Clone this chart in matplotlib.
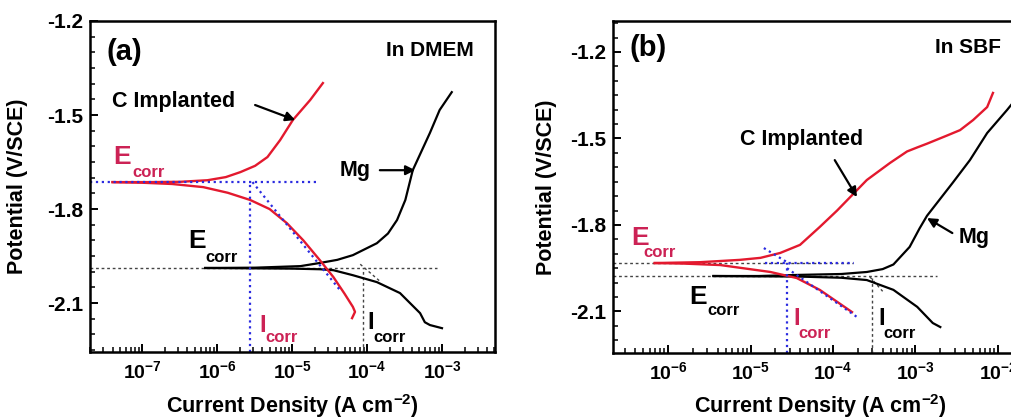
import matplotlib
matplotlib.use('Agg')
import matplotlib.pyplot as plt
import matplotlib.ticker as mtick
import numpy as np

plt.rcParams['font.family'] = ['Liberation Sans', 'DejaVu Sans']
plt.rcParams['font.weight'] = 'bold'
plt.rcParams['mathtext.fontset'] = 'custom'
plt.rcParams['mathtext.rm'] = 'Liberation Sans:bold'
plt.rcParams['mathtext.it'] = 'Liberation Sans:bold'
plt.rcParams['mathtext.bf'] = 'Liberation Sans:bold'
plt.rcParams['axes.unicode_minus'] = False

# ---- panel (a): in DMEM ----
a_c_anod_i = [4.0e-8, 1.26e-7, 3.2e-7, 7.4e-7, 1.3e-6, 2.04e-6, 3.2e-6, 4.68e-6, 6.9e-6,
              1.02e-5, 1.74e-5, 2.57e-5]
a_c_anod_e = [-1.714, -1.714, -1.713, -1.708, -1.698, -1.682, -1.662, -1.634, -1.58,
              -1.516, -1.452, -1.398]
a_c_cath_i = [4.0e-8, 1.0e-7, 2.5e-7, 6.5e-7, 1.38e-6, 2.75e-6, 5.0e-6, 8.5e-6, 1.41e-5,
              2.34e-5, 3.55e-5, 5.0e-5, 6.46e-5, 6.9e-5, 6.3e-5]
a_c_cath_e = [-1.714, -1.716, -1.72, -1.730, -1.748, -1.771, -1.80, -1.845, -1.90,
              -1.963, -2.017, -2.07, -2.112, -2.128, -2.148]
a_mg_anod_i = [6.9e-7, 3.2e-6, 1.29e-5, 2.34e-5, 4.0e-5, 6.46e-5, 1.35e-4, 1.9e-4, 2.51e-4,
               3.24e-4, 4.07e-4, 6.9e-4, 9.3e-4, 1.35e-3]
a_mg_anod_e = [-1.988, -1.987, -1.982, -1.972, -1.962, -1.947, -1.909, -1.878, -1.835,
               -1.771, -1.676, -1.557, -1.484, -1.427]
a_mg_cath_i = [6.9e-7, 1.0e-5, 2.34e-5, 3.55e-5, 6.46e-5, 1.35e-4, 2.75e-4, 5.1e-4,
               5.9e-4, 6.9e-4, 1.0e-3]
a_mg_cath_e = [-1.988, -1.99, -1.992, -1.995, -2.011, -2.033, -2.068, -2.132,
               -2.161, -2.17, -2.18]

a_ecorr_c, a_icorr_c = -1.714, 2.75e-6
a_ecorr_mg, a_icorr_mg = -1.988, 8.8e-5
a_ecorr_c_end = 2.1e-5
a_ecorr_mg_end = 8.5e-4
a_tafel_c_i, a_tafel_c_e = [2.95e-6, 4.4e-5], [-1.714, -2.06]
a_tafel_mg_i, a_tafel_mg_e = [8.1e-5, 1.48e-4], [-1.976, -2.03]

# ---- panel (b): in SBF ----
b_c_anod_i = [6.9e-7, 2.45e-6, 7.4e-6, 1.32e-5, 2.29e-5, 3.98e-5, 6.9e-5, 1.12e-4, 2.57e-4,
              4.9e-4, 7.9e-4, 1.05e-3, 1.38e-3, 2.4e-3, 3.47e-3, 5.0e-3, 7.4e-3, 8.7e-3]
b_c_anod_e = [-1.932, -1.929, -1.921, -1.914, -1.897, -1.869, -1.807, -1.75, -1.644,
              -1.585, -1.545, -1.531, -1.518, -1.490, -1.471, -1.436, -1.391, -1.342]
b_c_cath_i = [6.9e-7, 1.58e-6, 4.3e-6, 1.74e-5, 3.63e-5, 6.9e-5, 1.7e-4]
b_c_cath_e = [-1.932, -1.934, -1.939, -1.963, -1.984, -2.025, -2.102]
b_mg_anod_i = [3.55e-6, 1.26e-5, 3.98e-5, 1.26e-4, 2.57e-4, 4.0e-4, 5.4e-4, 8.5e-4, 1.12e-3,
               1.38e-3, 2.82e-3, 4.57e-3, 7.4e-3, 1.29e-2, 1.48e-2]
b_mg_anod_e = [-1.977, -1.977, -1.973, -1.97, -1.963, -1.953, -1.937, -1.876, -1.812,
               -1.768, -1.654, -1.575, -1.481, -1.401, -1.38]
b_mg_cath_i = [3.55e-6, 3.98e-5, 1.26e-4, 2.57e-4, 5.4e-4, 1.05e-3, 1.62e-3, 2.0e-3]
b_mg_cath_e = [-1.977, -1.979, -1.983, -1.991, -2.025, -2.084, -2.140, -2.154]

b_ecorr_c, b_icorr_c = -1.932, 2.77e-5
b_ecorr_mg, b_icorr_mg = -1.977, 2.95e-4
b_ecorr_c_end = 1.74e-4
b_ecorr_c_blue = [1.5e-5, 1.8e-4]
b_ecorr_mg_end = 1.8e-3
b_tafel_c1_i, b_tafel_c1_e = [1.45e-5, 3.0e-5], [-1.88, -1.935]
b_tafel_c2_i, b_tafel_c2_e = [2.77e-5, 1.95e-4], [-1.95, -2.119]
b_tafel_mg_i, b_tafel_mg_e = [2.8e-4, 4.0e-4], [-1.98, -2.03]

ytick_vals = [-2.1, -1.8, -1.5, -1.2]
ytick_labels = ['-2.1', '-1.8', '-1.5', '-1.2']

RED = '#e3192e'
RED_TXT = '#cc2255'
BLUE = '#2b2be0'
GREY = '#444444'

fig = plt.figure(figsize=(10.12, 4.19), dpi=100)
W, H = 1012, 419
ax_a = fig.add_axes([90 / W, 1 - 352 / H, 405 / W, 331 / H])
ax_b = fig.add_axes([613 / W, 1 - 353 / H, 414 / W, 332 / H])


def style_axes(ax, xlim, ylim, xticks):
    ax.set_xscale('log')
    ax.set_xlim(*xlim)
    ax.set_ylim(*ylim)
    ax.set_xticks(xticks)
    ax.xaxis.set_major_formatter(mtick.FuncFormatter(
        lambda v, p: '$10^{%d}$' % int(round(np.log10(v)))))
    ax.xaxis.set_minor_locator(mtick.LogLocator(base=10, subs=range(2, 10), numticks=30))
    ax.xaxis.set_minor_formatter(mtick.NullFormatter())
    ax.set_yticks(ytick_vals)
    ax.set_yticklabels(ytick_labels)
    ax.yaxis.set_minor_locator(mtick.MultipleLocator(0.05))
    ax.tick_params(which='both', direction='in', top=False, right=False)
    ax.tick_params(which='major', length=6, width=1.4)
    ax.tick_params(which='minor', length=3.5, width=1.1)
    ax.tick_params(axis='x', labelsize=14, pad=6)
    ax.tick_params(axis='y', labelsize=15, pad=5)
    for s in ax.spines.values():
        s.set_linewidth(1.8)


def corr_label(ax, big, x1, y1, x2, y2, color, bigsize, smallsize):
    ax.text(x1, y1, big, color=color, fontsize=bigsize, ha='center', va='center')
    ax.text(x2, y2, 'corr', color=color, fontsize=smallsize, ha='left', va='center')


arrow = dict(arrowstyle='-|>', color='black', lw=1.6, mutation_scale=14,
             shrinkA=0, shrinkB=0)

# ---------- (a) ----------
style_axes(ax_a, (2.0e-8, 5.1e-3), (-2.256, -1.2), [1e-7, 1e-6, 1e-5, 1e-4, 1e-3])
ax = ax_a
ax.hlines(a_ecorr_mg, 2.0e-8, a_ecorr_mg_end, colors=GREY, linestyles=(0, (2, 2)), lw=1.0)
ax.vlines(a_icorr_mg, -2.256, a_ecorr_mg, colors=GREY, linestyles=(0, (2, 2)), lw=1.0)
ax.plot(a_tafel_mg_i, a_tafel_mg_e, color=GREY, ls=(0, (2, 2)), lw=1.0)
ax.plot(a_mg_anod_i, a_mg_anod_e, color='black', lw=1.6)
ax.plot(a_mg_cath_i, a_mg_cath_e, color='black', lw=1.6)
ax.plot(a_c_anod_i, a_c_anod_e, color=RED, lw=1.7)
ax.plot(a_c_cath_i, a_c_cath_e, color=RED, lw=1.7)
ax.hlines(a_ecorr_c, 2.0e-8, a_ecorr_c_end, colors=BLUE, linestyles=':', lw=1.6)
ax.vlines(a_icorr_c, -2.256, a_ecorr_c, colors=BLUE, linestyles=':', lw=1.6)
ax.plot(a_tafel_c_i, a_tafel_c_e, color=BLUE, ls=':', lw=1.6)

ax.text(0.086, 0.906, '(a)', transform=ax.transAxes, fontsize=21, ha='center', va='center')
ax.text(0.84, 0.912, 'In DMEM', transform=ax.transAxes, fontsize=15, ha='center', va='center')
ax.text(2.6e-7, -1.458, 'C Implanted', fontsize=15.5, ha='center', va='center')
ax.annotate('', xy=(1.1e-5, -1.516), xytext=(3.2e-6, -1.468), arrowprops=arrow)
ax.text(6.9e-5, -1.676, 'Mg', fontsize=15.5, ha='center', va='center')
ax.annotate('', xy=(4.4e-4, -1.676), xytext=(1.48e-4, -1.676), arrowprops=arrow)
corr_label(ax, 'E', 5.4e-8, -1.634, 7.4e-8, -1.682, RED_TXT, 19, 12)
corr_label(ax, 'E', 5.4e-7, -1.902, 6.9e-7, -1.953, 'black', 19, 12)
corr_label(ax, 'I', 4.0e-6, -2.170, 4.4e-6, -2.209, RED_TXT, 17, 12)
corr_label(ax, 'I', 1.1e-4, -2.161, 1.2e-4, -2.209, 'black', 17, 12)

# ---------- (b) ----------
style_axes(ax_b, (2.15e-7, 2.25e-2), (-2.244, -1.0925), [1e-6, 1e-5, 1e-4, 1e-3, 1e-2])
ax = ax_b
ax.hlines(b_ecorr_c, 2.15e-7, b_ecorr_c_end, colors=GREY, linestyles=(0, (2, 2)), lw=1.0)
ax.hlines(b_ecorr_mg, 2.15e-7, b_ecorr_mg_end, colors=GREY, linestyles=(0, (2, 2)), lw=1.0)
ax.vlines(b_icorr_mg, -2.244, b_ecorr_mg, colors=GREY, linestyles=(0, (2, 2)), lw=1.0)
ax.plot(b_tafel_mg_i, b_tafel_mg_e, color=GREY, ls=(0, (2, 2)), lw=1.0)
ax.plot(b_mg_anod_i, b_mg_anod_e, color='black', lw=1.6)
ax.plot(b_mg_cath_i, b_mg_cath_e, color='black', lw=1.6)
ax.plot(b_c_anod_i, b_c_anod_e, color=RED, lw=1.7)
ax.plot(b_c_cath_i, b_c_cath_e, color=RED, lw=1.7)
ax.hlines(b_ecorr_c, b_ecorr_c_blue[0], b_ecorr_c_blue[1], colors=BLUE, linestyles=':', lw=1.6)
ax.vlines(b_icorr_c, -2.244, b_ecorr_c, colors=BLUE, linestyles=':', lw=1.6)
ax.plot(b_tafel_c1_i, b_tafel_c1_e, color=BLUE, ls=':', lw=1.6)
ax.plot(b_tafel_c2_i, b_tafel_c2_e, color=BLUE, ls=':', lw=1.6)

ax.text(0.085, 0.919, '(b)', transform=ax.transAxes, fontsize=21, ha='center', va='center')
ax.text(0.857, 0.919, 'In SBF', transform=ax.transAxes, fontsize=15, ha='center', va='center')
ax.text(4.2e-5, -1.505, 'C Implanted', fontsize=15.5, ha='center', va='center')
ax.annotate('', xy=(1.95e-4, -1.703), xytext=(1.05e-4, -1.575), arrowprops=arrow)
ax.text(5.2e-3, -1.845, 'Mg', fontsize=15.5, ha='center', va='center')
ax.annotate('', xy=(1.38e-3, -1.776), xytext=(2.8e-3, -1.828), arrowprops=arrow)
corr_label(ax, 'E', 4.6e-7, -1.845, 5.0e-7, -1.894, RED_TXT, 19, 12)
corr_label(ax, 'E', 2.3e-6, -2.05, 2.97e-6, -2.095, 'black', 19, 12)
corr_label(ax, 'I', 3.6e-5, -2.126, 3.8e-5, -2.175, RED_TXT, 17, 12)
corr_label(ax, 'I', 3.9e-4, -2.126, 4.1e-4, -2.175, 'black', 17, 12)

# axis titles
fig.text(18 / W, 1 - 186 / H, 'Potential (V/SCE)', rotation=90, fontsize=15.5,
         ha='center', va='center')
fig.text(547 / W, 1 - 187 / H, 'Potential (V/SCE)', rotation=90, fontsize=15.5,
         ha='center', va='center')
fig.text(292 / W, 6 / H, 'Current Density (A cm$^{-2}$)', fontsize=15.5,
         ha='center', va='baseline')
fig.text(820 / W, 6 / H, 'Current Density (A cm$^{-2}$)', fontsize=15.5,
         ha='center', va='baseline')

fig.savefig('out.png', dpi=100)
